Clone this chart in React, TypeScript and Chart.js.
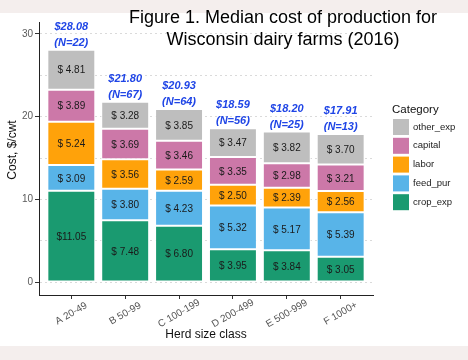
import React, { useEffect, useRef } from 'react';
import { Chart, registerables } from 'chart.js';
Chart.register(...registerables);

const categories = ['A 20-49', 'B 50-99', 'C 100-199', 'D 200-499', 'E 500-999', 'F 1000+'];
const cropExp = [11.05, 7.48, 6.8, 3.95, 3.84, 3.05];
const feedPur = [3.09, 3.8, 4.23, 5.32, 5.17, 5.39];
const labor = [5.24, 3.56, 2.59, 2.5, 2.39, 2.56];
const capital = [3.89, 3.69, 3.46, 3.35, 2.98, 3.21];
const otherExp = [4.81, 3.28, 3.85, 3.47, 3.82, 3.7];
const totals = [28.08, 21.8, 20.93, 18.59, 18.2, 17.91];
const herdCounts = [22, 67, 64, 56, 25, 13];
const yTicks = [0, 5, 10, 15, 20, 25, 30];
const yLabelTicks = [0, 10, 20, 30];
const seriesNames = ['crop_exp', 'feed_pur', 'labor', 'capital', 'other_exp'];
const seriesValues = [cropExp, feedPur, labor, capital, otherExp];
const seriesColors = ['#1a9a70', '#58b4e8', '#ffa20a', '#cc78a8', '#bebebe'];
const titleLines = ['Figure 1. Median cost of production for', 'Wisconsin dairy farms (2016)'];
const xTitle = 'Herd size class';
const yTitle = 'Cost, $/cwt';
const legendTitle = 'Category';

const FONT = '"Liberation Sans", Arial, sans-serif';

const fmt = (v: number) => '$' + v.toFixed(2).padStart(5, ' ');

const decorPlugin = {
  id: 'decor',
  beforeDraw(chart: any) {
    const { ctx, width, height } = chart;
    ctx.save();
    ctx.fillStyle = '#ffffff';
    ctx.fillRect(0, 0, width, height);
    ctx.fillStyle = '#f4eeed';
    ctx.fillRect(0, 0, width, 13);
    ctx.fillRect(0, 346, width, height - 346);
    ctx.restore();
  },
  afterDatasetsDraw(chart: any) {
    const { ctx } = chart;
    ctx.save();
    ctx.textAlign = 'center';
    ctx.textBaseline = 'middle';
    ctx.font = `10px ${FONT}`;
    ctx.fillStyle = '#1a1a1a';
    chart.data.datasets.forEach((ds: any, di: number) => {
      const meta = chart.getDatasetMeta(di);
      meta.data.forEach((el: any, j: number) => {
        const v = seriesValues[di][j];
        ctx.fillText(fmt(v), el.x, (el.y + el.base) / 2 + 1);
      });
    });
    // totals
    const topMeta = chart.getDatasetMeta(chart.data.datasets.length - 1);
    ctx.fillStyle = '#1f45e6';
    ctx.font = `italic bold 11px ${FONT}`;
    topMeta.data.forEach((el: any, j: number) => {
      ctx.fillText('$' + totals[j].toFixed(2), el.x, el.y - 23);
      ctx.fillText('(N=' + herdCounts[j] + ')', el.x, el.y - 7);
    });
    ctx.restore();
  },
  afterDraw(chart: any) {
    const { ctx, chartArea, scales } = chart;
    ctx.save();
    // x tick labels, rotated
    ctx.font = `10px ${FONT}`;
    ctx.fillStyle = '#555';
    ctx.textAlign = 'center';
    ctx.textBaseline = 'middle';
    categories.forEach((c, i) => {
      const x = scales.x.getPixelForValue(i);
      ctx.save();
      ctx.translate(x, chartArea.bottom + 18.5);
      ctx.rotate(-Math.PI / 6);
      ctx.fillText(c, 0, 0);
      ctx.restore();
    });
    // axis titles
    ctx.fillStyle = '#111';
    ctx.font = `12px ${FONT}`;
    ctx.fillText(xTitle, (chartArea.left + chartArea.right) / 2, 335);
    ctx.save();
    ctx.translate(13, 150);
    ctx.rotate(-Math.PI / 2);
    ctx.fillText(yTitle, 0, 0);
    ctx.restore();
    // title
    ctx.font = `18px ${FONT}`;
    ctx.fillStyle = '#000';
    ctx.fillText(titleLines[0], 283, 18);
    ctx.fillText(titleLines[1], 283, 40);
    // legend
    ctx.textAlign = 'left';
    ctx.font = `11.5px ${FONT}`;
    ctx.fillStyle = '#111';
    ctx.fillText(legendTitle, 392, 110);
    ctx.font = `9.5px ${FONT}`;
    const order = [4, 3, 2, 1, 0];
    order.forEach((di, k) => {
      const cy = 127 + k * 18.8;
      ctx.fillStyle = seriesColors[di];
      ctx.fillRect(393, cy - 8, 16, 16);
      ctx.fillStyle = '#1a1a1a';
      ctx.fillText(seriesNames[di], 413, cy);
    });
    ctx.restore();
  },
};

export default function App() {
  const ref = useRef<HTMLCanvasElement>(null);
  useEffect(() => {
    if (!ref.current) return;
    const chart = new Chart(ref.current, {
      type: 'bar',
      data: {
        datasets: seriesNames.map((name, di) => ({
          label: name,
          data: seriesValues[di].map((v, i) => ({ x: i, y: v })),
          backgroundColor: seriesColors[di],
          borderColor: '#ffffff',
          borderWidth: 1,
          borderSkipped: false,
          barPercentage: 0.89,
          categoryPercentage: 1,
        })),
      },
      options: {
        responsive: false,
        animation: false,
        maintainAspectRatio: false,
        layout: { padding: { top: 22, right: 95, bottom: 0, left: 0 } },
        plugins: { legend: { display: false }, tooltip: { enabled: false }, title: { display: false } },
        scales: {
          x: {
            type: 'linear',
            stacked: true,
            min: -0.6,
            max: 5.6,
            offset: false,
            afterBuildTicks: (s: any) => {
              s.ticks = categories.map((_, i) => ({ value: i }));
            },
            afterFit: (s: any) => {
              s.height = 65;
            },
            ticks: { callback: () => '', maxRotation: 0, minRotation: 0 },
            grid: {
              display: true,
              drawOnChartArea: false,
              drawTicks: true,
              tickLength: 4,
              tickColor: '#333',
              offset: false,
            },
            border: { display: true, color: '#222', width: 1 },
          },
          y: {
            stacked: true,
            min: -1.57,
            max: 31.45,
            afterBuildTicks: (s: any) => {
              s.ticks = yTicks.map((v) => ({ value: v }));
            },
            afterFit: (s: any) => {
              s.width = 39;
            },
            ticks: {
              padding: 2,
              color: '#5a5a5a',
              font: { family: FONT, size: 10 },
              callback: (v: any) => (yLabelTicks.includes(v) ? String(v) : ''),
            },
            grid: {
              color: '#dadada',
              lineWidth: 1,
              drawTicks: true,
              tickLength: 4,
              tickColor: (c: any) => (c.tick && yLabelTicks.includes(c.tick.value) ? '#333' : 'rgba(0,0,0,0)'),
            },
            border: { display: true, color: '#222', width: 1, dash: [2, 3] },
          },
        },
      },
      plugins: [decorPlugin],
    } as any);
    return () => chart.destroy();
  }, []);
  return (
    <div style={{ position: 'fixed', left: 0, top: 0, width: 468, height: 360, background: '#fff' }}>
      <canvas ref={ref} width={468} height={360} style={{ display: 'block' }} />
    </div>
  );
}
